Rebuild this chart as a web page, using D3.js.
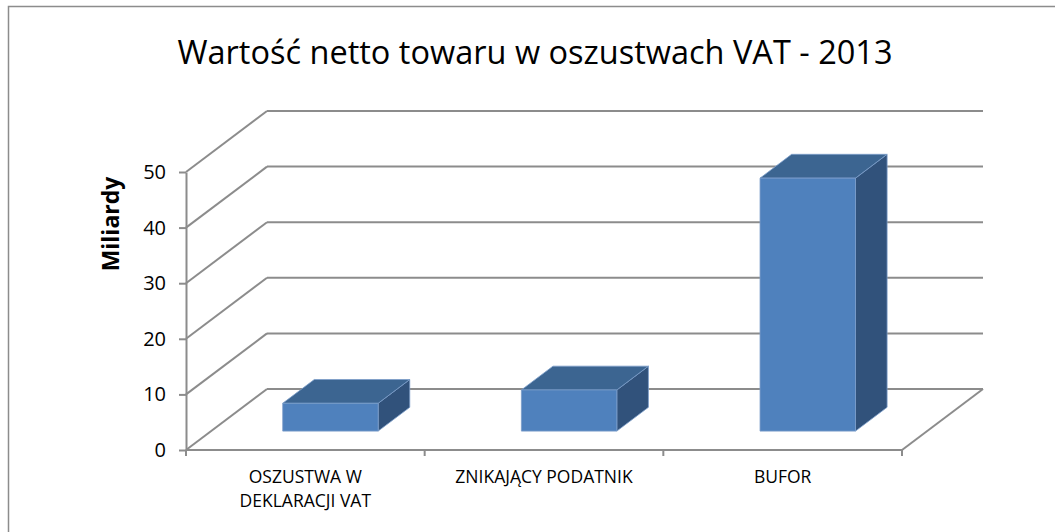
<!DOCTYPE html>
<html>
<head>
<meta charset="utf-8">
<script src="https://cdn.jsdelivr.net/npm/d3@7"></script>
<style>
  body { margin: 0; background: #fff; }
  text { font-family: "Open Sans", sans-serif; fill: #000; }
</style>
</head>
<body>
<div id="chart"></div>
<script>
// data (billions)
var categories = ["OSZUSTWA W\nDEKLARACJI VAT", "ZNIKAJĄCY PODATNIK", "BUFOR"];
var values = [5.0, 7.4, 45.5];
var yTicks = [0, 10, 20, 30, 40, 50];
var title = "Wartość netto towaru w oszustwach VAT - 2013";
var yTitle = "Miliardy";

var width = 1055, height = 532;
var gridColor = '#8c8c8c';
var frontColor = '#4f81bd', topColor = '#3c6591', sideColor = '#31527b';

// 3d depth of the whole plot box, and where the bars sit inside it
var depthX = 81, depthY = -61;
var barFront = 0.31, barBack = 0.70;

var svg = d3.select('#chart').append('svg')
  .attr('width', width)
  .attr('height', height);

svg.append('rect')
  .attr('x', 8.5).attr('y', 6.5)
  .attr('width', 1060).attr('height', 540)
  .attr('fill', 'none')
  .attr('stroke', '#8c8c8c')
  .attr('stroke-width', 1.5);

var x = d3.scaleBand()
  .domain(categories)
  .range([186, 902])
  .paddingInner(0.6)
  .paddingOuter(0.3);

var y = d3.scaleLinear()
  .domain([0, 50])
  .range([450, 172]);

var x0 = 186, x1 = 902;

// walls and floor
var grid = svg.append('g')
  .attr('stroke', gridColor)
  .attr('stroke-width', 2)
  .attr('fill', 'none');

grid.selectAll('line.back').data(yTicks).enter().append('line')
  .attr('class', 'back')
  .attr('x1', x0 + depthX).attr('x2', x1 + depthX)
  .attr('y1', function(d) { return y(d) + depthY; })
  .attr('y2', function(d) { return y(d) + depthY; });

grid.selectAll('line.side').data(yTicks).enter().append('line')
  .attr('class', 'side')
  .attr('x1', x0).attr('x2', x0 + depthX)
  .attr('y1', function(d) { return y(d); })
  .attr('y2', function(d) { return y(d) + depthY; });

grid.append('line')
  .attr('x1', x0).attr('x2', x1)
  .attr('y1', y(0)).attr('y2', y(0));

grid.append('line')
  .attr('x1', x1).attr('x2', x1 + depthX)
  .attr('y1', y(0)).attr('y2', y(0) + depthY);

// category boundary ticks
var bounds = d3.range(categories.length + 1).map(function(i) { return x0 + i * x.step(); });
grid.selectAll('line.xtick').data(bounds).enter().append('line')
  .attr('class', 'xtick')
  .attr('x1', function(d) { return d; }).attr('x2', function(d) { return d; })
  .attr('y1', y(0)).attr('y2', y(0) + 6);

// y axis
var yAxis = svg.append('g')
  .attr('transform', 'translate(' + x0 + ',0)')
  .call(d3.axisLeft(y).tickValues(yTicks).tickSize(7).tickSizeOuter(0).tickPadding(13));
yAxis.select('.domain').attr('stroke', gridColor).attr('stroke-width', 2);
yAxis.selectAll('.tick line').attr('stroke', gridColor).attr('stroke-width', 2);
yAxis.selectAll('.tick text')
  .style('font-size', '20px')
  .style('font-family', '"Open Sans", sans-serif')
  .attr('fill', '#000');

// bars
var fx = depthX * barFront, fy = depthY * barFront;
var bx = depthX * (barBack - barFront), by = depthY * (barBack - barFront);

var bars = svg.selectAll('g.bar').data(values).enter().append('g')
  .attr('class', 'bar')
  .attr('stroke', '#7b9dc9')
  .attr('stroke-width', 0.8)
  .attr('stroke-linejoin', 'round');

bars.append('path')
  .attr('fill', sideColor)
  .attr('d', function(d, i) {
    var r = x(categories[i]) + x.bandwidth() + fx, top = y(d) + fy, bot = y(0) + fy;
    return 'M' + r + ',' + top + 'L' + (r + bx) + ',' + (top + by) +
      'L' + (r + bx) + ',' + (bot + by) + 'L' + r + ',' + bot + 'Z';
  });

bars.append('path')
  .attr('fill', topColor)
  .attr('d', function(d, i) {
    var l = x(categories[i]) + fx, r = l + x.bandwidth(), top = y(d) + fy;
    return 'M' + l + ',' + top + 'L' + (l + bx) + ',' + (top + by) +
      'L' + (r + bx) + ',' + (top + by) + 'L' + r + ',' + top + 'Z';
  });

bars.append('rect')
  .attr('fill', frontColor)
  .attr('x', function(d, i) { return x(categories[i]) + fx; })
  .attr('y', function(d) { return y(d) + fy; })
  .attr('width', x.bandwidth())
  .attr('height', function(d) { return y(0) - y(d); });

// category labels
var labels = svg.selectAll('text.cat').data(categories).enter().append('text')
  .attr('class', 'cat')
  .attr('text-anchor', 'middle')
  .style('font-size', '17.5px');
labels.selectAll('tspan')
  .data(function(d) { return d.split('\n').map(function(s) { return {s: s, c: d}; }); })
  .enter().append('tspan')
  .attr('x', function(d) { return x(d.c) + x.bandwidth() / 2; })
  .attr('y', function(d, i) { return 483 + i * 23.5; })
  .text(function(d) { return d.s; });

// titles
svg.append('text')
  .attr('x', 535).attr('y', 64)
  .attr('text-anchor', 'middle')
  .style('font-size', '32.5px')
  .text(title);

svg.append('text')
  .attr('transform', 'translate(119,224) rotate(-90)')
  .attr('text-anchor', 'middle')
  .style('font-size', '23px')
  .style('font-weight', 'bold')
  .text(yTitle);
</script>
</body>
</html>
